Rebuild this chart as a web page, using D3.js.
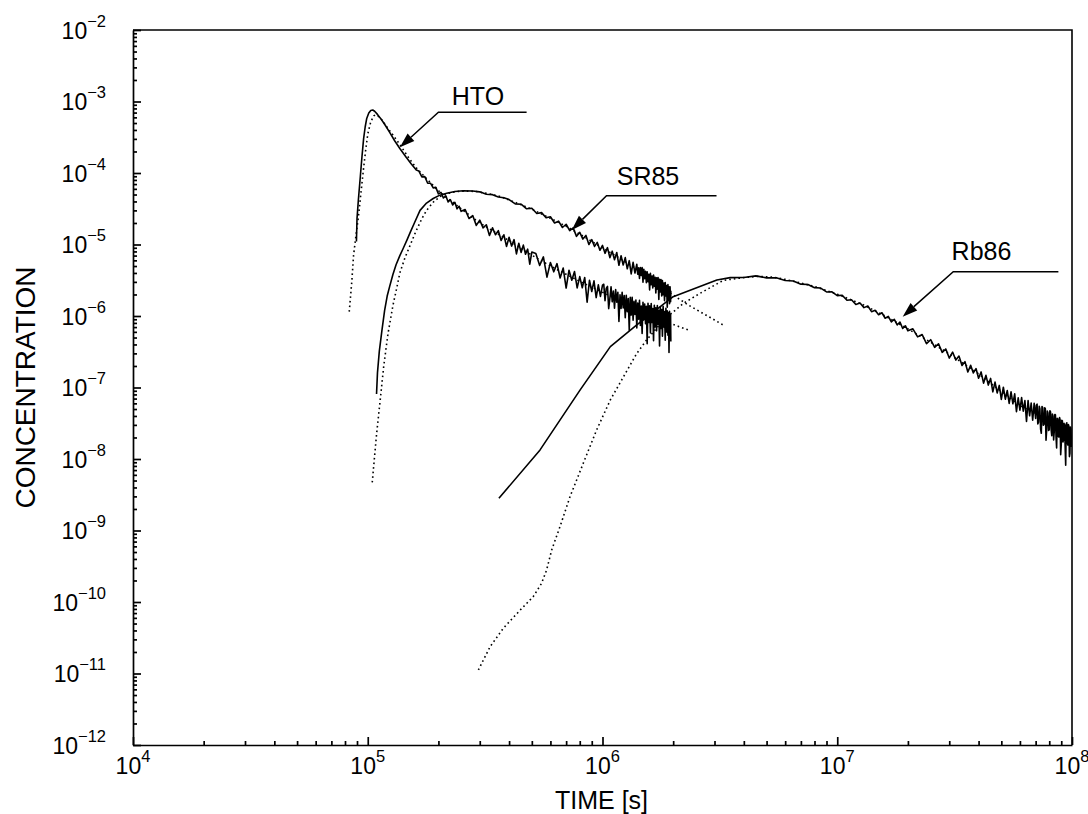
<!DOCTYPE html>
<html><head><meta charset="utf-8">
<script src="https://cdn.jsdelivr.net/npm/d3@7"></script>
<style>
body{margin:0;background:#fff}
svg{display:block}
text{font-family:"Liberation Sans",Arial,Helvetica,sans-serif;fill:#000}
</style>
</head><body>
<svg id="chart" width="1088" height="814"></svg>
<script>
// ---------- data ----------
const xDomain = [1e4, 1e8];
const yDomain = [1e-12, 1e-2];
const xTickExponents = [4, 5, 6, 7, 8];
const yTickExponents = [-2, -3, -4, -5, -6, -7, -8, -9, -10, -11, -12];
const xTitle = "TIME [s]";
const yTitle = "CONCENTRATION";

// measured HTO breakthrough (solid)
const htoMeasured = [
[8.95e4,1.1e-5],[9.0e4,2.3e-5],[9.12e4,4.2e-5],[9.3e4,9.0e-5],[9.45e4,1.7e-4],[9.6e4,3.0e-4],[9.75e4,4.4e-4],[9.9e4,5.8e-4],[1.01e5,6.9e-4],[1.03e5,7.5e-4],[1.05e5,7.6e-4],[1.07e5,7.3e-4],[1.1e5,6.6e-4],[1.13e5,5.9e-4],[1.18e5,4.8e-4],[1.24e5,3.7e-4],[1.3e5,2.85e-4],[1.37e5,2.2e-4],[1.45e5,1.7e-4],[1.53e5,1.35e-4],[1.61e5,1.1e-4],
[1.65e5,1.07e-4],[1.7e5,8.8e-5],[1.75e5,8.9e-5],[1.8e5,7.2e-5],[1.85e5,7.2e-5],[1.9e5,6.2e-5],[1.95e5,6.3e-5],[2.0e5,5.1e-5],[2.05e5,5.35e-5],[2.1e5,4.47e-5],[2.15e5,4.8e-5],[2.2e5,3.94e-5],[2.25e5,4.23e-5],[2.3e5,3.57e-5],[2.35e5,3.89e-5],[2.4e5,3.15e-5],[2.45e5,3.43e-5],[2.5e5,2.91e-5],
[2.6e5,3.08e-5],[2.7e5,2.31e-5],[2.8e5,2.54e-5],[2.9e5,1.85e-5],[3.0e5,2.19e-5],[3.1e5,1.71e-5],[3.2e5,1.89e-5],[3.3e5,1.34e-5],[3.4e5,1.71e-5],[3.5e5,1.37e-5],[3.6e5,1.56e-5],[3.7e5,1.14e-5],[3.8e5,1.37e-5],[3.9e5,9.4e-6],[4.0e5,1.26e-5],[4.1e5,9.5e-6],[4.2e5,1.17e-5],[4.3e5,7.4e-6],[4.4e5,1.04e-5],[4.5e5,7.75e-6],[4.6e5,9.8e-6],[4.7e5,7.3e-6],[4.8e5,8.6e-6],[4.9e5,5.3e-6],[5.0e5,7.85e-6],
[5.2e5,7.5e-6],[5.4e5,5.1e-6],[5.6e5,6.7e-6],[5.8e5,3.5e-6],[6.0e5,5.6e-6],[6.2e5,4.15e-6],[6.4e5,5.4e-6],[6.6e5,3.4e-6],[6.8e5,4.7e-6],[7.0e5,2.46e-6],[7.2e5,4.37e-6],[7.4e5,3.16e-6],[7.6e5,4.18e-6],[7.8e5,2.47e-6],[8.0e5,3.56e-6],[8.2e5,2.48e-6],[8.4e5,3.46e-6],[8.6e5,1.56e-6],[8.8e5,3.16e-6],[9.0e5,2.2e-6],[9.2e5,3.1e-6],[9.4e5,1.81e-6],[9.6e5,2.73e-6],[9.8e5,1.88e-6],[1.0e6,2.7e-6],
[1.0125e6,2.78e-6],[1.025e6,1.64e-6],[1.0375e6,2.43e-6],[1.05e6,2.6e-6],[1.0625e6,1.27e-6],[1.075e6,1.76e-6],[1.0875e6,2.56e-6],[1.1e6,1.58e-6],[1.1125e6,2.23e-6],[1.125e6,1.29e-6],[1.1375e6,2.35e-6],[1.15e6,1.56e-6],[1.1625e6,2.15e-6],[1.175e6,8.4e-7],[1.1875e6,1.98e-6],[1.2e6,1.28e-6],[1.2125e6,2.14e-6],[1.225e6,1.3e-6],[1.2375e6,1.93e-6],[1.25e6,9.5e-7],
[1.2625e6,1.95e-6],[1.275e6,1.15e-6],[1.2875e6,1.76e-6],[1.3e6,6.3e-7],[1.3125e6,1.82e-6],[1.325e6,1.03e-6],[1.3375e6,1.83e-6],[1.35e6,8.7e-7],[1.3625e6,1.61e-6],[1.375e6,1.05e-6],[1.3875e6,1.67e-6],[1.4e6,6.8e-7],[1.4125e6,1.52e-6],[1.425e6,9.0e-7],[1.4375e6,1.66e-6],[1.45e6,7.4e-7],[1.4625e6,1.38e-6],[1.475e6,5.7e-7],[1.4875e6,1.56e-6],[1.5e6,8.9e-7],
[1.5125e6,1.47e-6],[1.525e6,7.8e-7],[1.5375e6,1.37e-6],[1.55e6,4.1e-7],[1.5625e6,1.51e-6],[1.575e6,8.1e-7],[1.5875e6,1.39e-6],[1.6e6,5.8e-7],[1.6125e6,1.49e-6],[1.625e6,8.1e-7],[1.6375e6,1.27e-6],[1.65e6,4.5e-7],[1.6625e6,1.41e-6],[1.675e6,7.0e-7],[1.6875e6,1.3e-6],[1.7e6,6.2e-7],[1.7125e6,1.4e-6],[1.725e6,7.7e-7],[1.7375e6,1.2e-6],[1.75e6,3.8e-7],
[1.7625e6,1.33e-6],[1.775e6,6.7e-7],[1.7875e6,1.23e-6],[1.8e6,5.2e-7],[1.8125e6,1.37e-6],[1.825e6,7.0e-7],[1.8375e6,1.15e-6],[1.85e6,4.6e-7],[1.8625e6,1.28e-6],[1.875e6,6.0e-7],[1.8875e6,1.18e-6],[1.9e6,5.4e-7],[1.91e6,1.12e-6],[1.92e6,3.1e-7],[1.93e6,1.16e-6],[1.94e6,6.2e-7],[1.95e6,1.05e-6],[1.955e6,4.4e-7]
];

// model HTO (dotted)
const htoModel = [
[8.34e4,1.15e-6],[8.55e4,3.0e-6],[8.7e4,7.0e-6],[8.9e4,1.3e-5],[9.12e4,2.4e-5],[9.35e4,5.2e-5],[9.58e4,1.1e-4],[9.8e4,2.1e-4],[1.0e5,3.5e-4],[1.03e5,5.2e-4],[1.06e5,6.3e-4],[1.08e5,6.5e-4],[1.11e5,6.2e-4],[1.15e5,5.5e-4],[1.2e5,4.5e-4],[1.28e5,3.4e-4],[1.37e5,2.5e-4],[1.5e5,1.6e-4],[1.61e5,1.18e-4],[1.8e5,8.0e-5],[2.03e5,5.4e-5],[2.5e5,3.15e-5],[3.0e5,2.0e-5],[4.0e5,1.13e-5],[5.0e5,7.1e-6],[6.0e5,5.0e-6],[8.0e5,3.05e-6],[1.0e6,2.15e-6],[1.2e6,1.6e-6],[1.4e6,1.25e-6],[1.7e6,9.5e-7],[2.0e6,7.6e-7],[2.32e6,6.4e-7]
];

// measured SR85 (solid)
const sr85Measured = [
[1.09e5,8.1e-8],[1.1e5,1.6e-7],[1.12e5,3.2e-7],[1.15e5,6.4e-7],[1.18e5,1.2e-6],[1.21e5,1.9e-6],[1.24e5,2.6e-6],[1.28e5,3.8e-6],[1.32e5,5.2e-6],[1.37e5,7.0e-6],[1.42e5,9.0e-6],[1.47e5,1.16e-5],[1.52e5,1.5e-5],[1.58e5,2.0e-5],[1.67e5,3.0e-5],[1.78e5,3.8e-5],[1.9e5,4.4e-5],[2.03e5,4.9e-5],[2.17e5,5.2e-5],[2.35e5,5.5e-5],[2.55e5,5.65e-5],[2.8e5,5.6e-5],[3.0e5,5.45e-5],[3.2e5,5.05e-5],[3.4e5,4.98e-5],[3.6e5,4.62e-5],[3.8e5,4.5e-5],
[4.0e5,4.25e-5],[4.25e5,3.7e-5],[4.5e5,3.66e-5],[4.75e5,3.16e-5],[5.0e5,3.21e-5],[5.25e5,2.71e-5],[5.5e5,2.79e-5],[5.75e5,2.36e-5],[6.0e5,2.44e-5],[6.25e5,2.0e-5],[6.5e5,2.12e-5],[6.75e5,1.73e-5],[7.0e5,1.92e-5],[7.25e5,1.56e-5],[7.5e5,1.71e-5],[7.75e5,1.3e-5],[8.0e5,1.48e-5],[8.25e5,1.19e-5],[8.5e5,1.34e-5],[8.75e5,1.0e-5],[9.0e5,1.17e-5],[9.25e5,9.4e-6],[9.5e5,1.07e-5],[9.75e5,8.3e-6],[1.0e6,9.7e-6],
[1.025e6,7.53e-6],[1.05e6,9.03e-6],[1.075e6,6.54e-6],[1.1e6,8.06e-6],[1.125e6,6.12e-6],[1.15e6,7.73e-6],[1.175e6,5.12e-6],[1.2e6,6.95e-6],[1.225e6,5.17e-6],[1.25e6,6.56e-6],[1.275e6,4.57e-6],[1.3e6,5.94e-6],[1.325e6,3.87e-6],[1.35e6,5.63e-6],[1.375e6,3.99e-6],
[1.4e6,5.29e-6],[1.4125e6,3.83e-6],[1.425e6,4.73e-6],[1.4375e6,3.35e-6],[1.45e6,4.75e-6],[1.4625e6,3.69e-6],[1.475e6,4.77e-6],[1.4875e6,2.96e-6],[1.5e6,4.49e-6],[1.5125e6,3.33e-6],[1.525e6,4.21e-6],[1.5375e6,2.92e-6],[1.55e6,4.16e-6],[1.5625e6,3.02e-6],[1.575e6,3.83e-6],[1.5875e6,2.31e-6],[1.6e6,3.94e-6],[1.6125e6,2.74e-6],[1.625e6,3.63e-6],[1.6375e6,2.46e-6],
[1.65e6,3.75e-6],[1.6625e6,2.61e-6],[1.675e6,3.47e-6],[1.6875e6,2.1e-6],[1.7e6,3.42e-6],[1.7125e6,2.38e-6],[1.725e6,3.46e-6],[1.7375e6,1.7e-6],[1.75e6,3.27e-6],[1.7625e6,2.17e-6],[1.775e6,3.24e-6],[1.7875e6,1.91e-6],[1.8e6,3.12e-6],[1.8125e6,1.98e-6],[1.825e6,2.9e-6],[1.8375e6,1.64e-6],[1.85e6,2.93e-6],[1.8625e6,1.9e-6],[1.875e6,2.66e-6],[1.8875e6,1.33e-6],
[1.9e6,2.76e-6],[1.91e6,1.72e-6],[1.92e6,2.57e-6],[1.93e6,1.49e-6],[1.94e6,2.57e-6],[1.95e6,1.58e-6],[1.955e6,2.25e-6]
];

// model SR85 (dotted)
const sr85Model = [
[1.045e5,4.7e-9],[1.09e5,2.2e-8],[1.13e5,6.7e-8],[1.17e5,2.0e-7],[1.22e5,5.7e-7],[1.28e5,1.4e-6],[1.33e5,2.5e-6],[1.37e5,4.0e-6],[1.44e5,6.5e-6],[1.51e5,9.5e-6],[1.6e5,1.5e-5],[1.7e5,2.3e-5],[1.78e5,3.0e-5],[1.9e5,3.9e-5],[2.03e5,4.67e-5],[2.2e5,5.2e-5],[2.39e5,5.5e-5],[2.6e5,5.6e-5],[2.9e5,5.5e-5],[3.3e5,5.1e-5],[3.66e5,4.7e-5],[4.5e5,3.6e-5],[5.07e5,3.05e-5],[6.0e5,2.32e-5],[7.04e5,1.78e-5],[8.5e5,1.24e-5],[9.76e5,9.4e-6],[1.15e6,6.8e-6],[1.35e6,4.9e-6],[1.6e6,3.3e-6],[1.94e6,2.1e-6],[2.3e6,1.45e-6],[2.6e6,1.15e-6],[3.0e6,8.8e-7],[3.33e6,7.2e-7]
];

// measured Rb86 (solid)
const rb86Measured = [
[3.62e5,2.82e-9],[5.42e5,1.34e-8],[8.02e5,9.2e-8],[1.08e6,3.73e-7],[1.4e6,7.5e-7],[2.0e6,1.86e-6],[3.07e6,3.18e-6],[3.5e6,3.44e-6],[4.0e6,3.46e-6],[4.5e6,3.64e-6],[5.0e6,3.41e-6],[5.5e6,3.42e-6],[6.0e6,3.14e-6],[6.5e6,3.09e-6],[7.0e6,2.79e-6],[7.5e6,2.76e-6],[8.0e6,2.49e-6],[8.5e6,2.46e-6],[9.0e6,2.17e-6],[9.5e6,2.18e-6],
[1.0e7,1.93e-6],[1.05e7,1.95e-6],[1.1e7,1.66e-6],[1.15e7,1.69e-6],[1.2e7,1.45e-6],[1.25e7,1.52e-6],[1.3e7,1.31e-6],[1.35e7,1.38e-6],[1.4e7,1.15e-6],[1.45e7,1.2e-6],[1.5e7,1.04e-6],[1.55e7,1.11e-6],[1.6e7,9.3e-7],[1.65e7,9.9e-7],[1.7e7,8.26e-7],[1.75e7,9.0e-7],[1.8e7,7.5e-7],[1.85e7,8.25e-7],[1.9e7,6.68e-7],[1.95e7,7.31e-7],
[2.0e7,6.2e-7],[2.1e7,6.61e-7],[2.2e7,5.1e-7],[2.3e7,5.5e-7],[2.4e7,4.1e-7],[2.5e7,4.66e-7],[2.6e7,3.65e-7],[2.7e7,4.09e-7],[2.8e7,3.1e-7],[2.9e7,3.46e-7],[3.0e7,2.58e-7],[3.1e7,3.12e-7],[3.2e7,2.42e-7],[3.3e7,2.75e-7],[3.4e7,2.03e-7],[3.5e7,2.3e-7],[3.6e7,1.65e-7],[3.7e7,2.04e-7],[3.8e7,1.6e-7],[3.9e7,1.84e-7],
[4.0e7,1.35e-7],[4.1e7,1.65e-7],[4.2e7,1.15e-7],[4.3e7,1.48e-7],[4.4e7,1.08e-7],[4.5e7,1.34e-7],[4.6e7,8.7e-8],[4.7e7,1.19e-7],[4.8e7,8.4e-8],[4.9e7,1.07e-7],[5.0e7,6.8e-8],[5.1e7,1.01e-7],[5.2e7,6.86e-8],[5.3e7,9.07e-8],[5.4e7,6.0e-8],[5.5e7,8.72e-8],[5.6e7,5.92e-8],[5.7e7,8.15e-8],[5.8e7,4.58e-8],[5.9e7,7.19e-8],
[6.0e7,4.81e-8],[6.1e7,7.24e-8],[6.2e7,4.66e-8],[6.3e7,6.55e-8],[6.4e7,3.36e-8],[6.5e7,6.55e-8],[6.6e7,4.02e-8],[6.7e7,6.07e-8],[6.8e7,3.48e-8],[6.9e7,6.03e-8],
[7.0e7,3.7e-8],[7.05e7,5.67e-8],[7.1e7,5.85e-8],[7.15e7,3.1e-8],[7.2e7,3.28e-8],[7.25e7,5.48e-8],[7.3e7,5.05e-8],[7.35e7,2.61e-8],[7.4e7,2.29e-8],[7.45e7,5.42e-8],[7.5e7,5.22e-8],[7.55e7,2.96e-8],[7.6e7,3.05e-8],[7.65e7,5.22e-8],[7.7e7,5.02e-8],[7.75e7,1.83e-8],[7.8e7,2.55e-8],[7.85e7,4.68e-8],[7.9e7,4.41e-8],[7.95e7,2.5e-8],
[8.0e7,2.58e-8],[8.05e7,4.73e-8],[8.1e7,4.56e-8],[8.15e7,2.58e-8],[8.2e7,2.12e-8],[8.25e7,4.25e-8],[8.3e7,4.0e-8],[8.35e7,1.84e-8],[8.4e7,2.4e-8],[8.45e7,4.2e-8],[8.5e7,4.14e-8],[8.55e7,2.05e-8],[8.6e7,1.43e-8],[8.65e7,3.7e-8],[8.7e7,3.65e-8],[8.75e7,2.06e-8],[8.8e7,2.03e-8],[8.85e7,3.81e-8],[8.9e7,3.51e-8],[8.95e7,1.15e-8],
[9.0e7,1.6e-8],[9.05e7,3.47e-8],[9.1e7,3.42e-8],[9.15e7,1.73e-8],[9.2e7,1.84e-8],[9.25e7,3.15e-8],[9.3e7,2.98e-8],[9.35e7,1.48e-8],[9.4e7,8.2e-9],[9.45e7,3.09e-8],[9.5e7,3.21e-8],[9.55e7,1.7e-8],[9.6e7,1.57e-8],[9.65e7,3.04e-8],[9.7e7,2.87e-8],[9.75e7,1.08e-8],[9.8e7,1.2e-8],[9.85e7,2.8e-8],[9.9e7,2.64e-8],[9.95e7,1.47e-8]
];

// model Rb86 (dotted)
const rb86Model = [
[2.96e5,1.12e-11],[3.32e5,2.37e-11],[3.78e5,4.3e-11],[4.46e5,7.7e-11],[5.07e5,1.19e-10],[5.5e5,1.82e-10],[5.78e5,2.8e-10],[6.07e5,5.3e-10],[6.59e5,1.13e-9],[7.27e5,2.97e-9],[8.28e5,8.7e-9],[9.44e5,2.55e-8],[1.08e6,6.7e-8],[1.23e6,1.42e-7],[1.4e6,3.0e-7],[1.54e6,4.6e-7],[1.82e6,8.8e-7],[2.21e6,1.5e-6],[2.6e6,2.07e-6],[3.27e6,3.15e-6],[4.0e6,3.45e-6],[4.6e6,3.58e-6],[5.3e6,3.5e-6],[6.0e6,3.25e-6],[7.0e6,2.9e-6],[8.2e6,2.52e-6],[1.0e7,2.02e-6],[1.3e7,1.42e-6],[1.6e7,1.0e-6],[2.0e7,6.6e-7],[2.5e7,4.3e-7],[3.0e7,2.95e-7],[4.0e7,1.55e-7],[5.0e7,8.8e-8],[6.0e7,5.6e-8],[7.0e7,4.3e-8],[8.0e7,3.3e-8],[9.0e7,2.6e-8],[1.0e8,2.1e-8]
];

// annotation leaders (data coordinates)
const annLabels = ["HTO", "SR85", "Rb86"];
const annTips   = [[1.37e5,2.29e-4],[7.4e5,1.6e-5],[1.9e7,9.8e-7]];
const annElbows = [[2.0e5,7.06e-4],[1.04e6,4.82e-5],[3.12e7,4.17e-6]];
const annEnds   = [4.75e5, 3.06e6, 8.75e7];
const annText   = [[2.28e5,8.93e-4],[1.15e6,6.8e-5],[3.07e7,6.07e-6]];

// ---------- layout ----------
const plot = {left: 133, right: 1072, top: 30, bottom: 745};

const svg = d3.select("#chart");
const x = d3.scaleLog().domain(xDomain).range([plot.left, plot.right]);
const y = d3.scaleLog().domain(yDomain).range([plot.bottom, plot.top]);

const xMajor = xTickExponents.map(e => Math.pow(10, e));
const yMajor = yTickExponents.map(e => Math.pow(10, e));
const minorOf = (lo, hi) => {
  const out = [];
  for (let e = lo; e < hi; e++) for (let k = 2; k <= 9; k++) out.push(k * Math.pow(10, e));
  return out;
};
const xMinor = minorOf(4, 8);
const yMinor = minorOf(-12, -2);

// frame (top & right)
svg.append("path")
  .attr("d", `M${plot.left},${plot.top}H${plot.right}V${plot.bottom}`)
  .attr("fill", "none").attr("stroke", "#000").attr("stroke-width", 1.6);

function styleAxis(g) {
  g.selectAll("path,line").attr("stroke", "#000").attr("stroke-width", 1.7);
}

// bottom axis
svg.append("g").attr("transform", `translate(0,${plot.bottom})`)
  .call(d3.axisBottom(x).tickValues(xMajor).tickSize(-8).tickSizeOuter(0).tickFormat(""))
  .call(styleAxis);
svg.append("g").attr("transform", `translate(0,${plot.bottom})`)
  .call(d3.axisBottom(x).tickValues(xMinor).tickSize(-4).tickSizeOuter(0).tickFormat(""))
  .call(g => g.select(".domain").remove())
  .call(styleAxis);

// left axis
svg.append("g").attr("transform", `translate(${plot.left},0)`)
  .call(d3.axisLeft(y).tickValues(yMajor).tickSize(-8).tickSizeOuter(0).tickFormat(""))
  .call(styleAxis);
svg.append("g").attr("transform", `translate(${plot.left},0)`)
  .call(d3.axisLeft(y).tickValues(yMinor).tickSize(-4).tickSizeOuter(0).tickFormat(""))
  .call(g => g.select(".domain").remove())
  .call(styleAxis);

// tick labels with superscripts
xTickExponents.forEach(e => {
  const t = svg.append("text")
    .attr("x", x(Math.pow(10, e))).attr("y", 774)
    .attr("text-anchor", "middle").attr("font-size", 23);
  t.append("tspan").text("10");
  t.append("tspan").attr("dy", -12).attr("font-size", 16.5).text(String(e));
});
yTickExponents.forEach(e => {
  const t = svg.append("text")
    .attr("x", 106).attr("y", y(Math.pow(10, e)) + 8.5)
    .attr("text-anchor", "end").attr("font-size", 23);
  t.append("tspan").text("10");
  t.append("tspan").attr("dy", -12).attr("font-size", 16.5).text("\u2212" + Math.abs(e));
});

// axis titles
svg.append("text")
  .attr("x", (plot.left + plot.right) / 2 - 1).attr("y", 809)
  .attr("text-anchor", "middle").attr("font-size", 25).text(xTitle);
svg.append("text")
  .attr("transform", `translate(35,${(plot.top + plot.bottom) / 2}) rotate(-90)`)
  .attr("text-anchor", "middle").attr("font-size", 28).text(yTitle);

// curves
const line = d3.line().x(d => x(d[0])).y(d => y(d[1]));
const solid = [htoMeasured, sr85Measured, rb86Measured];
const dotted = [htoModel, sr85Model, rb86Model];

svg.append("clipPath").attr("id", "clipPlot")
  .append("rect").attr("x", plot.left).attr("y", plot.top)
  .attr("width", plot.right - plot.left).attr("height", plot.bottom - plot.top);

const curves = svg.append("g").attr("clip-path", "url(#clipPlot)");
dotted.forEach(s => curves.append("path").datum(s).attr("d", line)
  .attr("fill", "none").attr("stroke", "#000").attr("stroke-width", 1.6)
  .attr("stroke-dasharray", "1.6,3"));
solid.forEach(s => curves.append("path").datum(s).attr("d", line)
  .attr("fill", "none").attr("stroke", "#000").attr("stroke-width", 1.6)
  .attr("stroke-linejoin", "round"));

// annotations
annLabels.forEach((lab, i) => {
  const tx = x(annTips[i][0]), ty = y(annTips[i][1]);
  const ex = x(annElbows[i][0]), ey = y(annElbows[i][1]);
  const endX = x(annEnds[i]);
  const ang = Math.atan2(ty - ey, tx - ex);
  const L = 15, hw = 5;
  const bx = tx - L * Math.cos(ang), by = ty - L * Math.sin(ang);
  const px = -Math.sin(ang) * hw, py = Math.cos(ang) * hw;
  svg.append("path")
    .attr("d", `M${endX},${ey}H${ex}L${bx},${by}`)
    .attr("fill", "none").attr("stroke", "#000").attr("stroke-width", 1.5);
  svg.append("path")
    .attr("d", `M${tx},${ty}L${bx + px},${by + py}L${bx - px},${by - py}Z`)
    .attr("fill", "#000");
  svg.append("text")
    .attr("x", x(annText[i][0])).attr("y", y(annText[i][1]))
    .attr("font-size", 25).text(lab);
});
</script>
</body></html>
